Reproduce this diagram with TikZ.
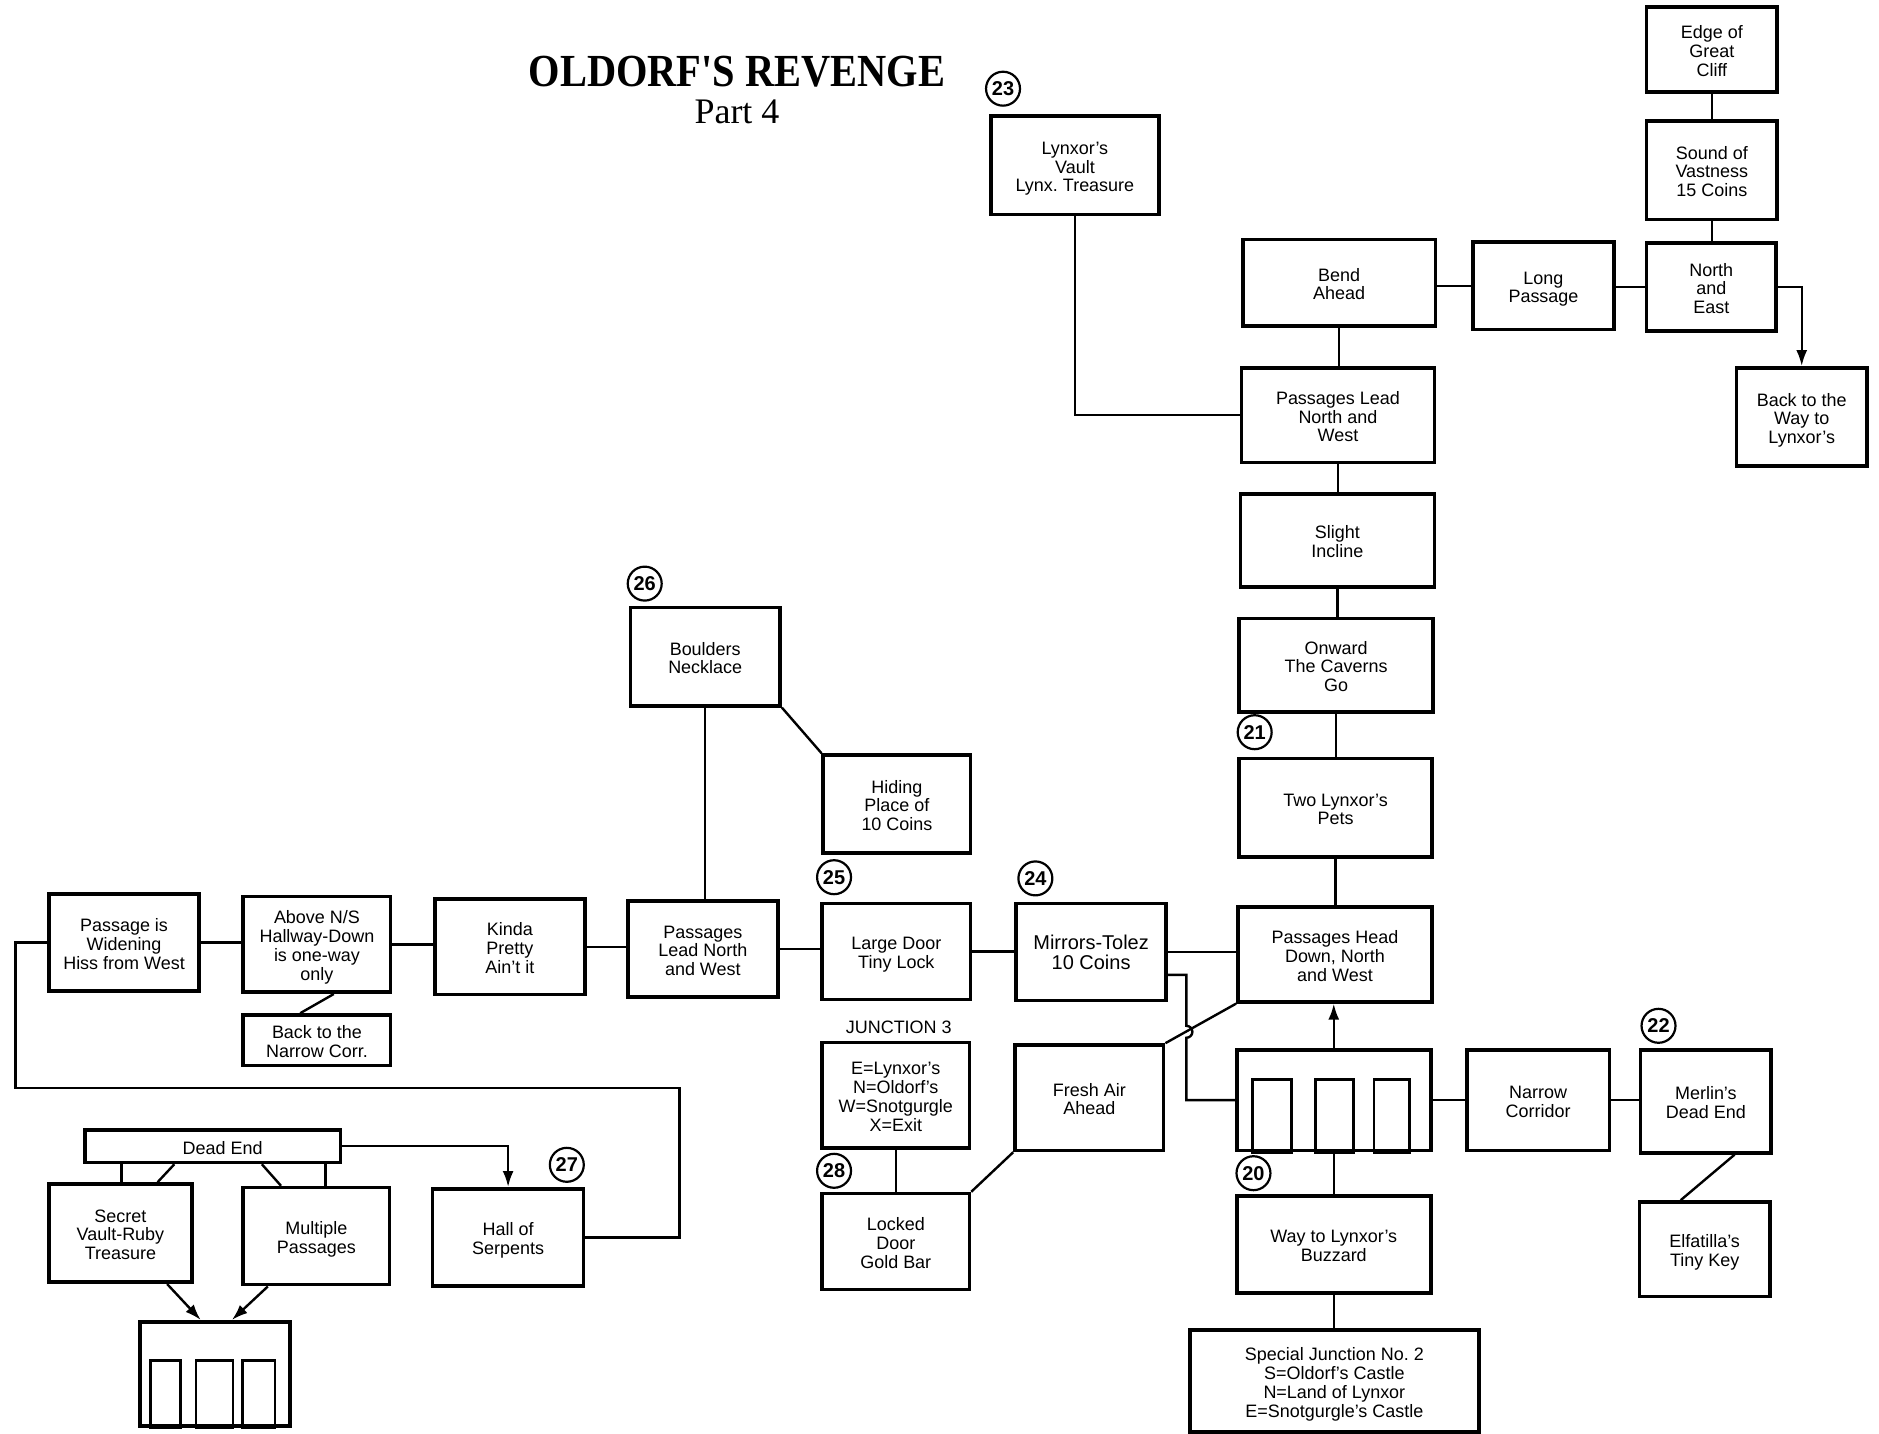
\documentclass[tikz,border=0pt]{standalone}
\usepackage{fontspec}
\setmainfont{Liberation Sans}
\newfontfamily\titlefont[FakeStretch=0.88]{Liberation Serif}
\newfontfamily\partfont{Liberation Serif}
\usetikzlibrary{positioning,arrows.meta,calc}
\tikzset{
    room/.style={rectangle,draw,line width=1.8pt,inner sep=0pt,font=\fontsize{9}{9.4}\selectfont},
    roomsize/.style 2 args={minimum width=#1*0.6pt,minimum height=#2*0.6pt},
    num/.style={circle,draw,line width=1.1pt,inner sep=0pt,minimum size=17pt,font=\bfseries\fontsize{10}{10}\selectfont},
    link/.style={line width=1.2pt},
    arr/.style={-{Latex[length=8pt,width=5.5pt]},line width=1.2pt},
    door/.style={draw,line width=1.4pt},
}
\newcommand{\rtxt}[1]{\begin{tabular}{@{}c@{}}\rule{0pt}{10.6pt}#1\end{tabular}}

\begin{document}
\begin{tikzpicture}[x=0.6pt,y=-0.6pt]
\useasboundingbox (0,0) rectangle (1568,1196);
\node[font=\titlefont\bfseries\fontsize{23}{23}\selectfont] (title) at (615,60) {OLDORF'S REVENGE};
\node[font=\partfont\fontsize{18}{18}\selectfont] (part) at (615,93) {Part 4};

\node[room,roomsize={109}{71}]  (cliff)    at (1428.5,41.5)  {\rtxt{Edge of\\Great\\Cliff}};
\node[room,roomsize={109}{82}]  (vast)     at (1428.5,142)   {\rtxt{Sound of\\Vastness\\15 Coins}};
\node[room,roomsize={108}{73}]  (ne)       at (1428,239.5)   {\rtxt{North\\and\\East}};
\node[room,roomsize={109}{82}]  (backlynx) at (1503.5,348)   {\rtxt{Back to the\\Way to\\Lynxor's}};
\node[room,roomsize={118}{73}]  (longp)    at (1288,238.5)   {\rtxt{Long\\Passage}};
\node[room,roomsize={161}{72}]  (bend)     at (1117.5,236)   {\rtxt{Bend\\Ahead}};
\node[room,roomsize={140}{82}]  (vault)    at (897,138)      {\rtxt{Lynxor's\\Vault\\Lynx.\ Treasure}};
\node[room,roomsize={161}{79}]  (leadup)   at (1116.5,346.5) {\rtxt{Passages Lead\\North and\\West}};
\node[room,roomsize={162}{78}]  (incline)  at (1116,451)     {\rtxt{Slight\\Incline}};
\node[room,roomsize={162}{78}]  (onward)   at (1115,555)     {\rtxt{Onward\\The Caverns\\Go}};
\node[room,roomsize={161}{82}]  (pets)     at (1114.5,674)   {\rtxt{Two Lynxor's\\Pets}};
\node[room,roomsize={162}{79}]  (headdown) at (1114,796.5)   {\rtxt{Passages Head\\Down, North\\and West}};
\node[room,roomsize={125}{82}]  (boulders) at (588.5,548)    {\rtxt{Boulders\\Necklace}};
\node[room,roomsize={123}{82}]  (hiding)   at (748.5,671)    {\rtxt{Hiding\\Place of\\10 Coins}};
\node[room,roomsize={125}{81}]  (widen)    at (103.5,786.5)  {\rtxt{Passage is\\Widening\\Hiss from West}};
\node[room,roomsize={123}{80}]  (above)    at (264.5,788)    {\rtxt{Above N/S\\Hallway-Down\\is one-way\\only}};
\node[room,roomsize={123}{42}]  (backnarrow) at (264.5,868)  {\rtxt{Back to the\\Narrow Corr.}};
\node[room,roomsize={125}{80}]  (kinda)    at (425.5,790)    {\rtxt{Kinda\\Pretty\\Ain't it}};
\node[room,roomsize={125}{80}]  (leadlow)  at (586.5,792)    {\rtxt{Passages\\Lead North\\and West}};
\node[room,roomsize={124}{80}]  (largedoor) at (748,794)     {\rtxt{Large Door\\Tiny Lock}};
\node[room,roomsize={125}{81},font=\fontsize{10}{10.4}\selectfont] (mirrors) at (910.5,794.5) {\rtxt{Mirrors-Tolez\\10 Coins}};
\node[font=\fontsize{9}{9}\selectfont] (jlabel) at (750,857) {JUNCTION 3};
\node[room,roomsize={123}{88}]  (jbox)     at (747.5,914)    {\rtxt{E=Lynxor's\\N=Oldorf's\\W=Snotgurgle\\X=Exit}};
\node[room,roomsize={124}{88}]  (fresh)    at (909,916)      {\rtxt{Fresh Air\\Ahead}};
\node[room,roomsize={123}{80}]  (locked)   at (747.5,1036)   {\rtxt{Locked\\Door\\Gold Bar}};
\node[room,roomsize={162}{84}]  (gate)     at (1113,918)     {};
\node[room,roomsize={119}{84}]  (narrow)   at (1283.5,918)   {\rtxt{Narrow\\Corridor}};
\node[room,roomsize={109}{86}]  (merlin)   at (1423.5,919)   {\rtxt{Merlin's\\Dead End}};
\node[room,roomsize={109}{79}]  (elf)      at (1422.5,1042.5) {\rtxt{Elfatilla's\\Tiny Key}};
\node[room,roomsize={162}{81}]  (buzzard)  at (1113,1038.5)  {\rtxt{Way to Lynxor's\\Buzzard}};
\node[room,roomsize={241}{85}]  (special)  at (1113.5,1152.5) {\rtxt{Special Junction No.\ 2\\S=Oldorf's Castle\\N=Land of Lynxor\\E=Snotgurgle's Castle}};
\node[room,roomsize={213}{27}]  (deadend)  at (177.5,956.5)  {\rtxt{\hspace*{10pt}Dead End}};
\node[room,roomsize={119}{82}]  (secret)   at (100.5,1029)   {\rtxt{Secret\\Vault-Ruby\\Treasure}};
\node[room,roomsize={122}{81}]  (multi)    at (264,1031.5)   {\rtxt{Multiple\\Passages}};
\node[room,roomsize={126}{81}]  (serpents) at (424,1032.5)   {\rtxt{Hall of\\Serpents}};
\node[room,roomsize={125}{87}]  (gatelow)  at (179.5,1146.5) {};

\node[num] (n23) at (837,74)   {23};
\node[num] (n21) at (1047,611) {21};
\node[num] (n26) at (538,487)  {26};
\node[num] (n25) at (696,732)  {25};
\node[num] (n24) at (864,733)  {24};
\node[num] (n28) at (696,977)  {28};
\node[num] (n20) at (1046,979) {20};
\node[num] (n22) at (1384,856) {22};
\node[num] (n27) at (473,972)  {27};

\coordinate (hop) at (990,861);
\coordinate (wl) at (13,908);
\coordinate (wr) at (567,908);

\draw[link] (cliff.south) -- (cliff.south |- vast.north);
\draw[link] (vast.south) -- (vast.south |- ne.north);
\draw[link] (ne.west) -- (ne.west -| longp.east);
\draw[link] (longp.west) -- (longp.west -| bend.east);
\draw[arr] (ne.east) -| (backlynx.north);
\draw[link] (bend.south) -- (bend.south |- leadup.north);
\draw[link] (vault.south) |- (leadup.west);
\draw[link] (leadup.south) -- (leadup.south |- incline.north);
\draw[link] (incline.south) -- (incline.south |- onward.north);
\draw[link] (onward.south) -- (onward.south |- pets.north);
\draw[link] (pets.south) -- (pets.south |- headdown.north);
\draw[link] (mirrors.east) -- (mirrors.east -| headdown.west);
\draw[link] ($(mirrors.east)+(0,19)$) -| ($(hop)+(0,-5)$) arc[start angle=90,end angle=-90,radius=3pt] |- (gate.west);
\draw[link] (fresh.north east) -- (headdown.south west);
\draw[arr] (gate.north) -- (gate.north |- headdown.south);
\draw[link] (gate.south) -- (gate.south |- buzzard.north);
\draw[link] (buzzard.south) -- (buzzard.south |- special.north);
\draw[link] (gate.east) -- (gate.east -| narrow.west);
\draw[link] (narrow.east) -- (narrow.east -| merlin.west);
\draw[link] ($(merlin.south)+(24,0)$) -- ($(elf.north)+(-20,0)$);
\draw[link] (fresh.south west) -- (locked.north east);
\draw[link] (jbox.south) -- (jbox.south |- locked.north);
\draw[link] (largedoor.east) -- (largedoor.east -| mirrors.west);
\draw[link] (leadlow.east) -- (leadlow.east -| largedoor.west);
\draw[link] (kinda.east) -- (kinda.east -| leadlow.west);
\draw[link] (above.east) -- (above.east -| kinda.west);
\draw[link] (widen.east) -- (widen.east -| above.west);
\draw[link] ($(above.south)+(14,0)$) -- ($(backnarrow.north)+(-14,0)$);
\draw[link] (widen.west) -| (wl) -- (wr) |- (serpents.east);
\draw[link] (boulders.south) -- (boulders.south |- leadlow.north);
\draw[link] (boulders.south east) -- (hiding.north west);
\draw[arr] (deadend.east) -| (serpents.north);
\draw[link] ($(deadend.south west)+(32,0)$) coordinate (d1) -- (d1 |- secret.north);
\draw[link] ($(deadend.south east)+(-14,0)$) coordinate (d2) -- (d2 |- multi.north);
\draw[link] ($(deadend.south west)+(76,0)$) -- ($(secret.north west)+(92,0)$);
\draw[link] ($(deadend.south west)+(149,0)$) -- ($(multi.north west)+(33,0)$);
\draw[arr] ($(secret.south west)+(100,0)$) -- ($(gatelow.north west)+(52,0)$);
\draw[arr] ($(multi.south west)+(22,0)$) -- ($(gatelow.north west)+(78,0)$);

\foreach \a/\b in {15/47,67/99,116/146}
  \draw[door] ($(gate.south west)+(\a,0)$) rectangle ($(gate.south west)+(\b,-61)$);
\foreach \a/\b in {10/35,48/79,87/114}
  \draw[door] ($(gatelow.south west)+(\a,0)$) rectangle ($(gatelow.south west)+(\b,-56)$);
\end{tikzpicture}
\end{document}
